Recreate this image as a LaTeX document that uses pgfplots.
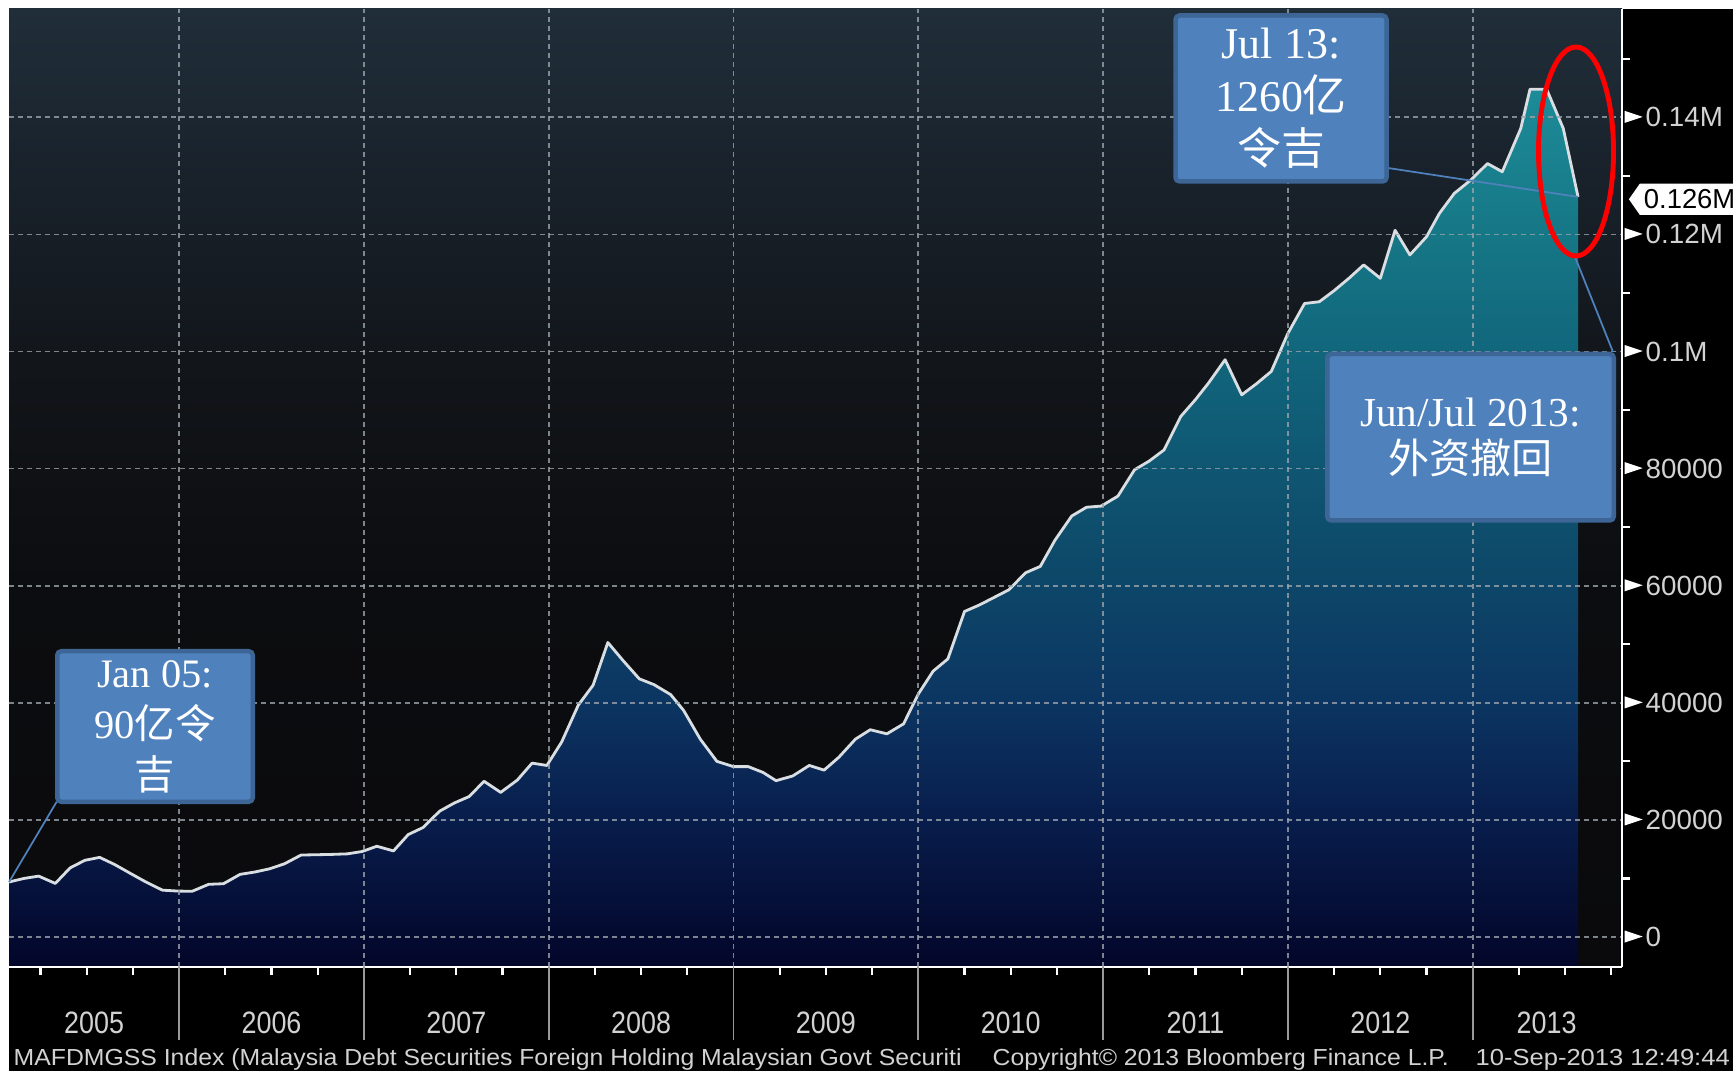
\documentclass[border=0pt]{standalone}
\usepackage{pgfplots}
\pgfplotsset{compat=1.18}
\usepackage{pgfplotstable}
\usepackage{graphicx}
\usepackage{fontspec}
\setmainfont{Liberation Sans}
\newfontfamily\serif{Liberation Serif}
\newfontfamily\cjk{Noto Sans CJK SC}
\usetikzlibrary{shapes.symbols}

\definecolor{boxfill}{HTML}{4F81BD}
\definecolor{boxedge}{HTML}{3D6596}
\definecolor{linec}{HTML}{D9DEE2}
\definecolor{lbl}{HTML}{D2D2D2}
\definecolor{gridc}{HTML}{9AA3AA}
% area fill, bottom to top
\definecolor{f0}{HTML}{03062A}
\definecolor{f1}{HTML}{040A30}
\definecolor{f2}{HTML}{081D4C}
\definecolor{f3}{HTML}{0C3562}
\definecolor{f4}{HTML}{0D4668}
\definecolor{f5}{HTML}{0F5672}
\definecolor{f6}{HTML}{11667C}
\definecolor{f7}{HTML}{167786}
\definecolor{f8}{HTML}{1D8B98}
% plot background
\definecolor{b0}{HTML}{0A0A0C}
\definecolor{b1}{HTML}{0C0D10}
\definecolor{b2}{HTML}{111418}
\definecolor{b3}{HTML}{182029}
\definecolor{b4}{HTML}{202E39}

\pgfdeclareverticalshading{fillshade}{100bp}{color(0bp)=(f0); color(25bp)=(f0); color(26.7bp)=(f1); color(33.4bp)=(f2); color(40.05bp)=(f3); color(46.7bp)=(f4); color(53.4bp)=(f5); color(60.06bp)=(f6); color(66.7bp)=(f7); color(75bp)=(f8); color(100bp)=(f8)}
\pgfdeclareverticalshading{bgshade}{100bp}{color(0bp)=(b0); color(25bp)=(b0); color(45bp)=(b1); color(55bp)=(b2); color(65bp)=(b3); color(75bp)=(b4); color(100bp)=(b4)}

\newcommand{\tri}{\tikz[baseline=-1mm]\fill[white] (0,-0.6mm) -- (1.8mm,0) -- (0,0.6mm) -- cycle;\hspace{0.3mm}}
\newcommand{\sq}[1]{\scalebox{0.87}[1]{#1}}

% MAFDMGSS
\pgfplotstableread{
year value
2005.08 9400
2005.16 10000
2005.24 10400
2005.33 9150
2005.41 11800
2005.49 13100
2005.57 13600
2005.65 12400
2005.74 10800
2005.82 9400
2005.91 8000
2005.99 7850
2006.07 7800
2006.16 9000
2006.24 9100
2006.33 10700
2006.41 11100
2006.49 11650
2006.57 12500
2006.66 14000
2006.74 14050
2006.82 14100
2006.91 14200
2006.99 14600
2007.07 15500
2007.16 14700
2007.24 17500
2007.32 18700
2007.41 21500
2007.49 22900
2007.57 24000
2007.65 26600
2007.74 24700
2007.83 26800
2007.91 29700
2007.99 29300
2008.07 33300
2008.16 39600
2008.24 43000
2008.32 50300
2008.40 47300
2008.49 44100
2008.57 43100
2008.66 41400
2008.73 38700
2008.82 33800
2008.91 30000
2009.00 29100
2009.08 29100
2009.16 28100
2009.23 26700
2009.32 27500
2009.41 29300
2009.49 28500
2009.57 30700
2009.66 33800
2009.74 35400
2009.83 34700
2009.92 36400
2010.00 41500
2010.08 45400
2010.16 47500
2010.25 55600
2010.33 56700
2010.41 58000
2010.49 59300
2010.58 62200
2010.66 63300
2010.74 67800
2010.83 71900
2010.91 73400
2010.99 73600
2011.08 75300
2011.17 79800
2011.25 81300
2011.33 83200
2011.42 88900
2011.50 91800
2011.57 94600
2011.66 98600
2011.75 92600
2011.83 94500
2011.91 96600
2012.00 103100
2012.09 108200
2012.17 108500
2012.25 110400
2012.33 112500
2012.41 114800
2012.50 112500
2012.58 120700
2012.66 116500
2012.75 119600
2012.82 123600
2012.90 127000
2012.99 129300
2013.08 132100
2013.16 130700
2013.26 138100
2013.31 144800
2013.40 144800
2013.49 138100
2013.57 126400
}\mydata

\begin{document}
\begin{tikzpicture}
\useasboundingbox (0,0) rectangle (173.3mm,107.1mm);
\fill[white] (0,0) rectangle (173.3mm,107.1mm);
\fill[black] (0.9mm,0) rectangle (173.3mm,106.2mm);

\begin{axis}[
    at={(0.9mm,10.4mm)}, anchor=south west,
    scale only axis, width=161.3mm, height=95.8mm,
    xmin=2005.0795, xmax=2013.808, ymin=-5124, ymax=158500,
    axis x line*=bottom, axis y line*=right,
    axis line style={white, line width=0.8pt},
    axis on top,
    axis background/.style={shade, shading=bgshade},
    tick align=outside,
    tick style={white},
    major tick length=0pt,
    minor tick length=0.8mm,
    minor tick style={white, line width=0.6pt},
    xtick={2005.54,2006.5,2007.5,2008.5,2009.5,2010.5,2011.5,2012.5,2013.4},
    xticklabels={\sq{2005},\sq{2006},\sq{2007},\sq{2008},\sq{2009},\sq{2010},\sq{2011},\sq{2012},\sq{2013}},
    xticklabel style={anchor=center, yshift=-5.6mm, text=lbl, font=\fontsize{8.8}{10}\selectfont},
    minor xtick={2005.25,2005.5,2005.75,2006.25,2006.5,2006.75,2007.25,2007.5,2007.75,2008.25,2008.5,2008.75,2009.25,2009.5,2009.75,2010.25,2010.5,2010.75,2011.25,2011.5,2011.75,2012.25,2012.5,2012.75,2013.25,2013.5,2013.75},
    extra x ticks={2006,2007,2008,2009,2010,2011,2012,2013},
    extra x tick labels={},
    extra x tick style={major tick length=7.3mm, major tick style={color=gray!80, line width=0.5pt}, xmajorgrids=true},
    ytick={0,20000,40000,60000,80000,100000,120000,140000},
    yticklabels={\tri 0,\tri 20000,\tri 40000,\tri 60000,\tri 80000,\tri 0.1M,\tri 0.12M,\tri 0.14M},
    yticklabel style={anchor=west, inner xsep=0.2mm, text=lbl, font=\fontsize{7.9}{9}\selectfont},
    minor ytick={10000,30000,50000,70000,90000,110000,130000,150000},
    scaled y ticks=false,
    xmajorgrids=false, ymajorgrids=true,
    major grid style={gridc, line width=0.5pt, dash pattern=on 0.5mm off 0.4mm, opacity=0.8},
]
\addplot[draw=none, shade, shading=fillshade] table[x=year, y=value] {\mydata}
    -- (axis cs:2013.57,-5124) -- (axis cs:2005.0795,-5124) -- cycle;
\addplot[linec, line width=0.8pt, line join=round] table[x=year, y=value] {\mydata};
\coordinate (startpt) at (axis cs:2005.08,9400);
\coordinate (endpt) at (axis cs:2013.57,126400);
\coordinate (m126) at (axis cs:2013.808,126000);
\end{axis}

% callouts
\draw[boxfill, line width=0.5pt] (138.8mm,90.3mm) -- (endpt);
\draw[boxfill, line width=0.5pt] (5.67mm,26.93mm) -- (startpt);
\draw[boxfill, line width=0.5pt] (161.3mm,71.9mm) -- (157.5mm,81.4mm);

\tikzset{box/.style={fill=boxfill, draw=boxedge, line width=0.45mm, rounded corners=0.4mm, text=white, align=center, inner sep=0pt}}
\node[box, minimum width=21.1mm, minimum height=16.6mm, font=\fontsize{12.5}{15.1}\selectfont]
    at (128.1mm,97.25mm) {{\serif Jul 13:}\\{\serif 1260}{\cjk 亿}\\{\cjk 令吉}};
\node[box, minimum width=28.65mm, minimum height=16.65mm, font=\fontsize{11.7}{13.3}\selectfont]
    at (147.05mm,63.38mm) {{\serif Jun/Jul 2013:}\\{\cjk 外资撤回}};
\node[box, minimum width=19.55mm, minimum height=15.05mm, font=\fontsize{11.5}{14.5}\selectfont]
    at (15.5mm,34.45mm) {{\serif Jan 05:}\\{\serif 90}{\cjk 亿令}\\{\cjk 吉}};

\draw[red, line width=1.4pt] (157.6mm,91.95mm) ellipse [x radius=3.75mm, y radius=10.45mm];

% last value flag
\node[signal, signal to=west, signal pointer angle=110, fill=white, text=black,
      font=\fontsize{7.8}{9}\selectfont, inner xsep=0.4mm, inner ysep=0.6mm, anchor=west]
    at ([xshift=0.6mm]m126) {0.126M};

% footer
\node[anchor=base west, inner sep=0, text=lbl, font=\fontsize{6.6}{8}\selectfont] at (1.3mm,0.55mm)
    {\resizebox{94.8mm}{\height}{MAFDMGSS Index (Malaysia Debt Securities Foreign Holding Malaysian Govt Securiti}};
\node[anchor=base west, inner sep=0, text=lbl, font=\fontsize{6.6}{8}\selectfont] at (99.2mm,0.55mm)
    {\resizebox{45.6mm}{\height}{Copyright© 2013 Bloomberg Finance L.P.}};
\node[anchor=base west, inner sep=0, text=lbl, font=\fontsize{6.6}{8}\selectfont] at (147.5mm,0.55mm)
    {\resizebox{25.4mm}{\height}{10-Sep-2013 12:49:44}};
\end{tikzpicture}
\end{document}
